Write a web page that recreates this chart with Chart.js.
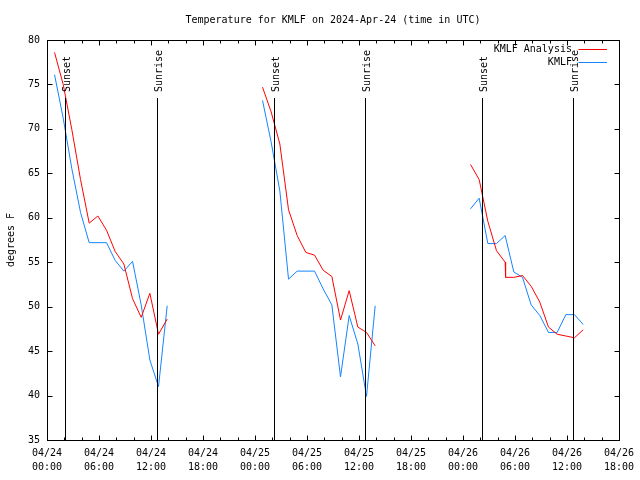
<!DOCTYPE html>
<html>
<head>
<meta charset="utf-8">
<script src="https://cdn.jsdelivr.net/npm/chart.js@4.4.1/dist/chart.umd.min.js"></script>
<style>
  html, body { margin: 0; padding: 0; background: #fff; }
  canvas { display: block; }
</style>
</head>
<body>
<canvas id="tempChart" width="640" height="480"></canvas>
<script>
// hours after 2024-04-24 00:00 UTC
var obsHours1 = [0.87, 1.87, 2.87, 3.87, 4.87, 5.87, 6.87, 7.87, 8.87, 9.87, 10.87, 11.87, 12.87, 13.87];
var obsHours2 = [24.87, 25.87, 26.87, 27.87, 28.87, 29.87, 30.87, 31.87, 32.87, 33.87, 34.87, 35.87, 36.87, 37.87];
var obsHours3 = [48.87, 49.87, 50.87, 51.87, 52.87, 53.87, 54.87, 55.87, 56.87, 57.87, 58.87, 59.87, 60.87, 61.87];
var analysisHours3 = [48.87, 49.87, 50.87, 51.87, 52.87, 52.92, 53.87, 54.87, 55.87, 56.87, 57.87, 58.87, 59.87, 60.87, 61.87];

// degrees F
var analysisTemp1 = [78.6, 75.0, 69.9, 64.3, 59.4, 60.2, 58.6, 56.2, 54.8, 50.9, 48.8, 51.5, 46.9, 48.6];
var analysisTemp2 = [74.7, 71.9, 68.3, 60.9, 58.0, 56.1, 55.8, 54.1, 53.4, 48.5, 51.8, 47.7, 47.1, 45.6];
var analysisTemp3 = [66.0, 64.3, 59.6, 56.3, 55.0, 53.3, 53.3, 53.5, 52.3, 50.5, 47.7, 46.9, 46.7, 46.5, 47.4];
var kmlfTemp1 = [76.1, 71.2, 65.5, 60.6, 57.2, 57.2, 57.2, 55.2, 54.0, 55.1, 50.2, 44.0, 41.0, 50.1];
var kmlfTemp2 = [73.2, 68.5, 63.0, 53.1, 54.0, 54.0, 54.0, 52.0, 50.2, 42.1, 49.0, 45.8, 39.9, 50.1];
var kmlfTemp3 = [61.0, 62.2, 57.1, 57.1, 58.0, 53.9, 53.3, 50.2, 49.0, 47.1, 47.1, 49.1, 49.1, 48.0];

var sunsetHours = [2.13, 26.15, 50.17];
var sunriseHours = [12.7, 36.7, 60.68];
var tickDays = ['04/24', '04/25', '04/26'];

var monoFont = "'DejaVu Sans Mono', monospace";

function toPoints(hourSets, tempSets) {
    var pts = [];
    for (var s = 0; s < hourSets.length; s++) {
        for (var i = 0; i < hourSets[s].length; i++) {
            pts.push({ x: hourSets[s][i], y: tempSets[s][i] });
        }
        if (s < hourSets.length - 1) {
            pts.push({ x: hourSets[s][hourSets[s].length - 1] + 1, y: null });
        }
    }
    return pts;
}

// border, inward ticks, sunrise/sunset markers and legend, drawn gnuplot style
var framePlugin = {
    id: 'frame',
    afterDatasetsDraw: function(chart) {
        var ctx = chart.ctx;
        var a = chart.chartArea;
        var xs = chart.scales.x, ys = chart.scales.y;
        var L = Math.round(a.left) + 0.5, R = Math.round(a.right) + 0.5;
        var T = Math.round(a.top) + 0.5, B = Math.round(a.bottom) + 0.5;
        ctx.save();
        ctx.strokeStyle = '#000';
        ctx.lineWidth = 1;
        ctx.strokeRect(L, T, R - L, B - T);

        ctx.beginPath();
        for (var h = xs.min; h <= xs.max; h += 2) {
            var px = Math.round(xs.getPixelForValue(h)) + 0.5;
            var len = (h % 6 === 0) ? 5 : 3;
            ctx.moveTo(px, B); ctx.lineTo(px, B - len);
            ctx.moveTo(px, T); ctx.lineTo(px, T + len);
        }
        for (var v = ys.min; v <= ys.max; v += 5) {
            var py = Math.round(ys.getPixelForValue(v)) + 0.5;
            ctx.moveTo(L, py); ctx.lineTo(L + 5, py);
            ctx.moveTo(R, py); ctx.lineTo(R - 5, py);
        }
        ctx.stroke();

        ctx.font = '10px ' + monoFont;
        ctx.fillStyle = '#000';
        var marks = [];
        sunsetHours.forEach(function(h) { marks.push([h, 'Sunset']); });
        sunriseHours.forEach(function(h) { marks.push([h, 'Sunrise']); });
        marks.forEach(function(m) {
            var px = Math.round(xs.getPixelForValue(m[0])) + 0.5;
            ctx.beginPath();
            ctx.moveTo(px, a.top + 58);
            ctx.lineTo(px, B);
            ctx.stroke();
            ctx.save();
            ctx.translate(px + 1.5, a.top + 52);
            ctx.rotate(-Math.PI / 2);
            ctx.textAlign = 'left';
            ctx.textBaseline = 'middle';
            ctx.fillText(m[1], 0, 0);
            ctx.restore();
        });

        chart.data.datasets.forEach(function(ds, i) {
            var y = Math.round(a.top + 9 + 13 * i) + 0.5;
            ctx.textAlign = 'right';
            ctx.textBaseline = 'middle';
            ctx.fillStyle = '#000';
            ctx.fillText(ds.label, a.right - 47, y);
            ctx.strokeStyle = ds.borderColor;
            ctx.beginPath();
            ctx.moveTo(a.right - 40.5, y);
            ctx.lineTo(a.right - 12, y);
            ctx.stroke();
        });
        ctx.restore();
    }
};

var ctx = document.getElementById('tempChart').getContext('2d');
var tempChart = new Chart(ctx, {
    type: 'line',
    data: {
        datasets: [{
            label: 'KMLF Analysis',
            data: toPoints([obsHours1, obsHours2, analysisHours3], [analysisTemp1, analysisTemp2, analysisTemp3]),
            borderColor: '#ff0000',
            borderWidth: 1,
            pointRadius: 0,
            tension: 0,
            spanGaps: false
        },
        {
            label: 'KMLF',
            data: toPoints([obsHours1, obsHours2, obsHours3], [kmlfTemp1, kmlfTemp2, kmlfTemp3]),
            borderColor: '#1484ff',
            borderWidth: 1,
            pointRadius: 0,
            tension: 0,
            spanGaps: false
        }]
    },
    options: {
        responsive: false,
        animation: false,
        devicePixelRatio: 1,
        layout: { padding: { left: 0, right: 18, top: 0, bottom: 0 } },
        plugins: {
            legend: { display: false },
            tooltip: { enabled: false },
            title: {
                display: true,
                fullSize: false,
                text: 'Temperature for KMLF on 2024-Apr-24 (time in UTC)',
                color: '#000',
                font: { family: monoFont, size: 10, weight: 'normal' },
                padding: { top: 14, bottom: 14 }
            }
        },
        scales: {
            x: {
                type: 'linear',
                min: 0,
                max: 66,
                afterFit: function(scale) { scale.height = 40; },
                grid: { display: false, drawTicks: false },
                border: { display: false },
                ticks: {
                    stepSize: 6,
                    autoSkip: false,
                    maxRotation: 0,
                    padding: 6,
                    color: '#000',
                    font: { family: monoFont, size: 10, lineHeight: 1.4 },
                    callback: function(value) {
                        var hh = value % 24;
                        return [tickDays[Math.floor(value / 24)], (hh < 10 ? '0' : '') + hh + ':00'];
                    }
                }
            },
            y: {
                min: 35,
                max: 80,
                afterFit: function(scale) { scale.width = 47; },
                grid: { display: false, drawTicks: false },
                border: { display: false },
                ticks: {
                    stepSize: 5,
                    padding: 7,
                    color: '#000',
                    font: { family: monoFont, size: 10 }
                },
                title: {
                    display: true,
                    text: 'degrees F',
                    color: '#000',
                    font: { family: monoFont, size: 10 },
                    padding: { top: 5, bottom: 0 }
                }
            }
        }
    },
    plugins: [framePlugin]
});
</script>
</body>
</html>
